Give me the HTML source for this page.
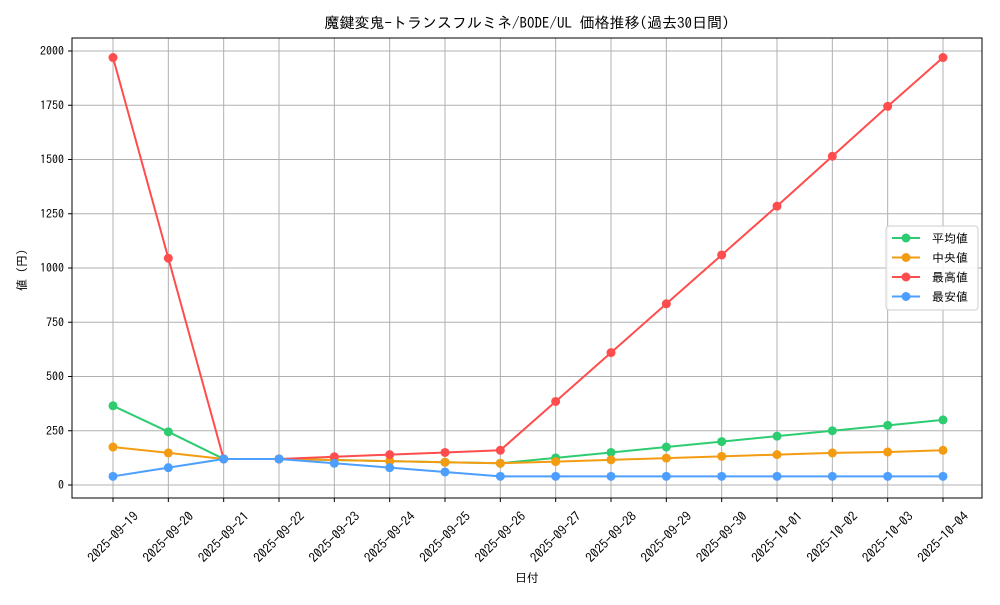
<!DOCTYPE html>
<html><head><meta charset="utf-8"><style>
body{margin:0;background:#fff;font-family:"Liberation Sans","IPAGothic","Noto Sans CJK JP",sans-serif}
svg text{font-family:"IPAGothic","Noto Sans CJK JP",sans-serif;fill:#000}
</style></head><body>
<svg id="c" width="1000" height="600"></svg>
<script>
const dates=["2025-09-19","2025-09-20","2025-09-21","2025-09-22","2025-09-23","2025-09-24","2025-09-25","2025-09-26","2025-09-27","2025-09-28","2025-09-29","2025-09-30","2025-10-01","2025-10-02","2025-10-03","2025-10-04"];
const avgVals=[365,245,120,120,115,110,105,100,125,150,175,200,225,250,275,300];
const medVals=[175,148,120,120,115,110,105,100,108,116,124,132,140,148,152,160];
const maxVals=[1970,1045,120,120,130,140,150,160,385,610,835,1060,1285,1515,1745,1970];
const minVals=[40,80,120,120,100,80,60,40,40,40,40,40,40,40,40,40];
const yTicks=[0,250,500,750,1000,1250,1500,1750,2000];
const seriesNames=["平均値","中央値","最高値","最安値"];
const colors=["#2ecc71","#f39c12","#ff4d4d","#4d9fff"];
const L=72,R=982,T=38,B=498;
const x=i=>113+i*(943-113)/(dates.length-1);
const y=v=>485-v*(485-51)/2000;
const s=document.getElementById('c');const NS="http://www.w3.org/2000/svg";
function mk(t,a,p){const e=document.createElementNS(NS,t);for(const k in a)e.setAttribute(k,a[k]);(p||s).appendChild(e);return e;}
yTicks.forEach(v=>{
const g=mk('line',{x1:L,x2:R,y1:y(v),y2:y(v),stroke:'#b0b0b0','stroke-width':1});


mk('line',{x1:L-4,x2:L,y1:y(v),y2:y(v),stroke:'#000'});
const t=mk('text',{x:L-8,y:y(v)+4,'text-anchor':'end','font-size':12});t.textContent=v;


});
dates.forEach((d,i)=>{
const g=mk('line',{x1:x(i),x2:x(i),y1:T,y2:B,stroke:'#b0b0b0','stroke-width':1});


mk('line',{x1:x(i),x2:x(i),y1:B,y2:B+4,stroke:'#000'});
const cy=537;
const t=mk('text',{x:x(i),y:cy+4.5,'text-anchor':'middle','font-size':13,transform:`rotate(-45 ${x(i)} ${cy})`});t.textContent=d;


});
const fr=mk('rect',{x:L,y:T,width:R-L,height:B-T,fill:'none',stroke:'#000'});


[avgVals,medVals,maxVals,minVals].forEach((vals,k)=>{
const g=mk('g',{});


mk('polyline',{points:vals.map((v,i)=>x(i)+','+y(v)).join(' '),fill:'none',stroke:colors[k],'stroke-width':2},g);
vals.forEach((v,i)=>{const c=mk('circle',{cx:x(i),cy:y(v),r:4.5,fill:colors[k]},g);

});
});
const lg=mk('g',{});


mk('rect',{x:886,y:226,width:92,height:84,rx:3,fill:'#fff','fill-opacity':0.85,stroke:'#ccc'},lg);
seriesNames.forEach((n,k)=>{const yy=238+k*19.5;
const e=mk('g',{},lg);


mk('line',{x1:892,x2:920,y1:yy,y2:yy,stroke:colors[k],'stroke-width':2},e);
mk('circle',{cx:906,cy:yy,r:4.5,fill:colors[k]},e);
const t=mk('text',{x:932,y:yy+4.5,'font-size':12},e);t.textContent=n;});
const ti=mk('text',{x:527,y:28,'text-anchor':'middle','font-size':15});ti.textContent="魔鍵変鬼-トランスフルミネ/BODE/UL 価格推移(過去30日間)";


const xt=mk('text',{x:527,y:582,'text-anchor':'middle','font-size':12});xt.textContent="日付";


const yt=mk('text',{x:26,y:270,'text-anchor':'middle','font-size':12,transform:'rotate(-90 26 270)'});yt.textContent="値 (円)";


</script>
</body></html>
